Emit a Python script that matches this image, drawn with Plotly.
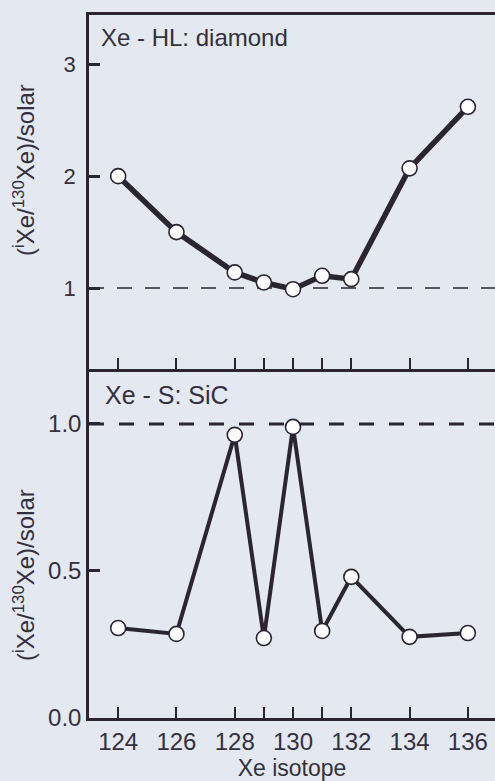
import plotly.graph_objects as go

isotopes = [124, 126, 128, 129, 130, 131, 132, 134, 136]
hl_diamond = [2.00, 1.50, 1.14, 1.05, 0.99, 1.11, 1.08, 2.07, 2.62]
s_sic = [0.306, 0.286, 0.963, 0.272, 0.99, 0.296, 0.48, 0.276, 0.289]
top_yticks = [1, 2, 3]
bot_yticks = [0.0, 0.5, 1.0]
bot_yticklabels = ["0.0", "0.5", "1.0"]
xtick_labels = ["124", "126", "128", "", "130", "", "132", "134", "136"]
ytitle = "(<sup>i</sup>Xe/<sup>130</sup>Xe)/solar"

BG = "#e3e8f1"
INK = "#2b2433"
TXT = "#35303d"
FONT = "Liberation Sans"

fig = go.Figure()
marker = dict(size=15, color="white", line=dict(color=INK, width=1.6))
fig.add_trace(go.Scatter(x=isotopes, y=hl_diamond, mode="lines+markers",
                         line=dict(color=INK, width=5.5), marker=marker,
                         xaxis="x", yaxis="y", showlegend=False))
fig.add_trace(go.Scatter(x=isotopes, y=s_sic, mode="lines+markers",
                         line=dict(color=INK, width=4), marker=marker,
                         xaxis="x2", yaxis="y2", showlegend=False))

split = (718 - 369) / 703
xrange = [123.0, 136.93]
common_x = dict(range=xrange, tickvals=isotopes, ticks="inside", ticklen=11,
                tickwidth=2, tickcolor=INK, showline=True, linecolor=INK,
                linewidth=2.5, showgrid=False, zeroline=False, fixedrange=True)
fig.update_layout(
    width=495, height=781,
    margin=dict(l=89, r=0, t=15, b=63),
    paper_bgcolor=BG, plot_bgcolor=BG,
    font=dict(family=FONT, color=TXT),
    xaxis=dict(**common_x, domain=[0, 1], anchor="y", showticklabels=False, mirror=True),
    xaxis2=dict(**common_x, domain=[0, 1], anchor="y2", ticktext=xtick_labels,
                tickfont=dict(size=24, color=TXT),
                title=dict(text="Xe isotope", font=dict(size=23, color=TXT), standoff=4)),
    yaxis=dict(domain=[split, 1], range=[0.277, 3.44], tickvals=top_yticks,
               ticks="inside", ticklen=11, tickwidth=2.5, tickcolor=INK,
               showline=True, linecolor=INK, linewidth=2.5, showgrid=False,
               zeroline=False, tickfont=dict(size=22, color=TXT), ticklabelstandoff=6),
    yaxis2=dict(domain=[0, split], range=[0, 1.187], tickvals=bot_yticks,
                ticktext=bot_yticklabels,
                ticks="inside", ticklen=11, tickwidth=2.5, tickcolor=INK,
                showline=True, linecolor=INK, linewidth=2.5, showgrid=False,
                zeroline=False, tickfont=dict(size=24, color=TXT)),
)
fig.add_shape(type="line", xref="x domain", yref="y", x0=0, x1=1, y0=1, y1=1,
              line=dict(color=INK, width=1.5, dash="15px,13px"), layer="below")
fig.add_shape(type="line", xref="x2 domain", yref="y2", x0=0, x1=1, y0=1, y1=1,
              line=dict(color=INK, width=3, dash="15px,15px"), layer="below")
fig.add_annotation(text="Xe - HL: diamond", xref="paper", yref="paper",
                   x=0.025, y=1, xanchor="left", yanchor="top", yshift=-7,
                   showarrow=False, font=dict(size=24, color=TXT))
fig.add_annotation(text="Xe - S: SiC", xref="paper", yref="paper",
                   x=0.035, y=split, xanchor="left", yanchor="top", yshift=-10,
                   showarrow=False, font=dict(size=25, color=TXT))
# y-axis titles placed as rotated annotations
fig.add_annotation(text=ytitle, xref="paper", yref="paper",
                   x=(24 - 89) / 406, y=(718 - 170) / 703, textangle=-90,
                   xanchor="center", yanchor="middle", showarrow=False,
                   font=dict(size=24, color=TXT))
fig.add_annotation(text=ytitle, xref="paper", yref="paper",
                   x=(24 - 89) / 406, y=(718 - 575) / 703, textangle=-90,
                   xanchor="center", yanchor="middle", showarrow=False,
                   font=dict(size=24, color=TXT))

fig.write_html("out.html")
